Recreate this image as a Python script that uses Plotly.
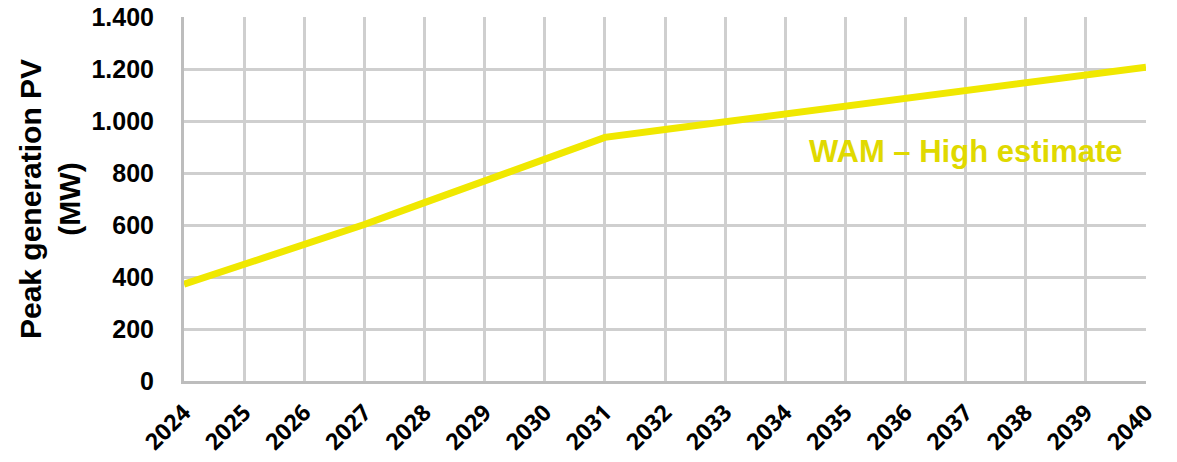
import plotly.graph_objects as go

# Peak PV generation, WAM high-estimate scenario
years = list(range(2024, 2041))
peak_mw = [372, 447, 522, 602, 686, 771, 856, 937, 967, 997, 1027,
           1057, 1087, 1117, 1147, 1177, 1207]

y_ticks = [0, 200, 400, 600, 800, 1000, 1200, 1400]
y_tick_labels = ["0", "200", "400", "600", "800", "1.000", "1.200", "1.400"]

series_label = "WAM – High estimate"

line_color = "#f0e800"
label_color = "#e0d900"
grid_color = "#cfcfcf"

fig = go.Figure()
fig.add_trace(go.Scatter(
    x=years, y=peak_mw, mode="lines",
    line=dict(color=line_color, width=7),
    showlegend=False, hoverinfo="x+y",
))

fig.add_annotation(
    x=2037.0, y=882, xref="x", yref="y",
    text=f"<b>{series_label}</b>", showarrow=False,
    font=dict(family="Liberation Sans, Arial, sans-serif", size=31, color=label_color),
)

fig.update_layout(
    width=1177, height=462,
    margin=dict(l=184, r=31, t=17, b=81),
    plot_bgcolor="white", paper_bgcolor="white",
)

fig.update_xaxes(
    range=[2024, 2040],
    tickmode="array", tickvals=years, ticktext=[str(y) for y in years],
    tickangle=-45,
    tickfont=dict(family="Open Sans, sans-serif", size=23, color="black", weight="bold"),
    ticklabelstandoff=6,
    showgrid=True, gridcolor=grid_color, gridwidth=3,
    showline=True, linecolor="#bdbdbd", linewidth=3,
    ticks="", zeroline=False, automargin=False,
)

fig.update_yaxes(
    range=[0, 1400],
    tickmode="array", tickvals=y_ticks, ticktext=y_tick_labels,
    tickfont=dict(family="Liberation Sans, Arial, sans-serif", size=25, color="black", weight="bold"),
    ticklabelstandoff=22,
    showgrid=True, gridcolor=grid_color, gridwidth=3,
    showline=True, linecolor="#bdbdbd", linewidth=3,
    ticks="", zeroline=False, automargin=False,
    title=dict(
        text="<b>Peak generation PV<br>(MW)</b>",
        font=dict(family="Liberation Sans, Arial, sans-serif", size=30, color="black"),
        standoff=2,
    ),
)

fig.write_html("out.html")
